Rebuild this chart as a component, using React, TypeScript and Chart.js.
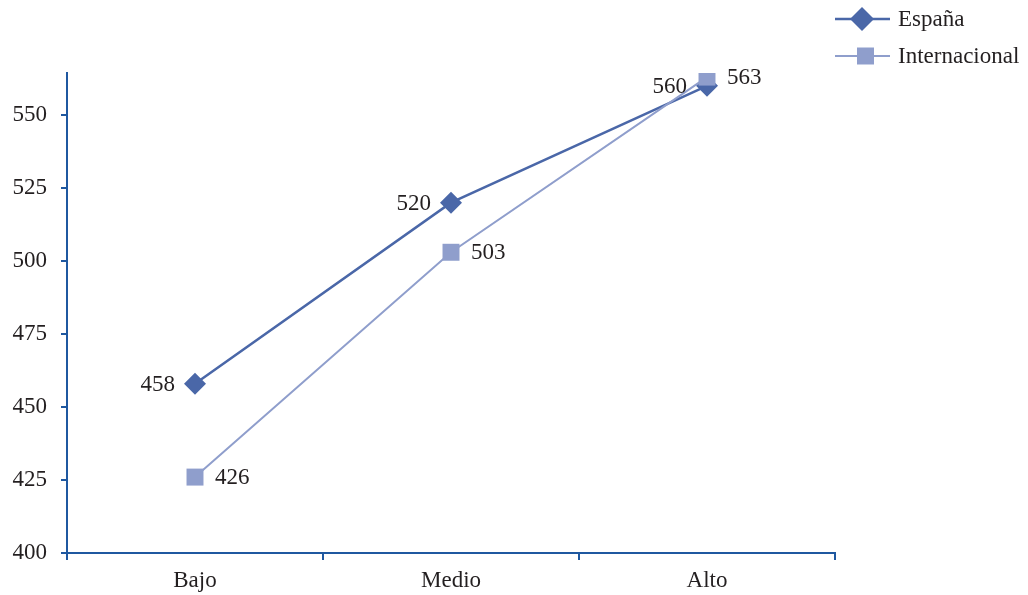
import React, { useEffect, useRef } from "react";
import { Chart, registerables } from "chart.js";

Chart.register(...registerables);

const categories = ["Bajo", "Medio", "Alto"];
const espana = [458, 520, 560];
const internacional = [426, 503, 563];
const seriesNames = ["España", "Internacional"];
const yTicks = [400, 425, 450, 475, 500, 525, 550];

const AXIS = "#1f58a0";
const C1 = "#4a67a8";
const C2 = "#8f9ecc";
const TXT = "#231f20";
const FONT = "'Liberation Serif', 'Times New Roman', serif";
const FS = 23;

const labelsPlugin = {
  id: "valueLabels",
  afterDatasetsDraw(chart: any) {
    const ctx = chart.ctx;
    ctx.save();
    ctx.font = `${FS}px ${FONT}`;
    ctx.fillStyle = TXT;
    ctx.textBaseline = "middle";
    chart.data.datasets.forEach((ds: any, di: number) => {
      const meta = chart.getDatasetMeta(di);
      meta.data.forEach((pt: any, i: number) => {
        const v = ds.data[i];
        if (di === 0) {
          ctx.textAlign = "right";
          ctx.fillText(String(v), pt.x - 20, pt.y + 1);
        } else {
          ctx.textAlign = "left";
          ctx.fillText(String(v), pt.x + 20, pt.y + 1);
        }
      });
    });
    ctx.restore();
  },
};

const legendPlugin = {
  id: "customLegend",
  afterDraw(chart: any) {
    const ctx = chart.ctx;
    ctx.save();
    const items = [
      { name: seriesNames[0], color: C1, y: 19, style: "diamond", lw: 2.5 },
      { name: seriesNames[1], color: C2, y: 56, style: "square", lw: 2 },
    ];
    items.forEach((it) => {
      ctx.strokeStyle = it.color;
      ctx.lineWidth = it.lw;
      ctx.beginPath();
      ctx.moveTo(835, it.y);
      ctx.lineTo(890, it.y);
      ctx.stroke();
      ctx.fillStyle = it.color;
      ctx.beginPath();
      if (it.style === "diamond") {
        const cx = 862, r = 12;
        ctx.moveTo(cx - r, it.y);
        ctx.lineTo(cx, it.y - r);
        ctx.lineTo(cx + r, it.y);
        ctx.lineTo(cx, it.y + r);
        ctx.closePath();
      } else {
        ctx.rect(857, it.y - 8.5, 17, 17);
      }
      ctx.fill();
      ctx.fillStyle = TXT;
      ctx.font = `${FS}px ${FONT}`;
      ctx.textAlign = "left";
      ctx.textBaseline = "middle";
      ctx.fillText(it.name, 898, it.y + 1);
    });
    ctx.restore();
  },
};

export default function App() {
  const ref = useRef<HTMLCanvasElement>(null);
  useEffect(() => {
    document.body.style.margin = "0";
    const chart = new Chart(ref.current!, {
      type: "line",
      data: {
        labels: categories,
        datasets: [
          {
            label: seriesNames[0],
            data: espana,
            borderColor: C1,
            backgroundColor: C1,
            borderWidth: 2.5,
            pointStyle: "rectRot",
            pointRadius: 11,
            pointBorderWidth: 0,
            tension: 0,
            order: 2,
          },
          {
            label: seriesNames[1],
            data: internacional,
            borderColor: C2,
            backgroundColor: C2,
            borderWidth: 2,
            pointStyle: "rect",
            pointRadius: 12,
            pointBorderWidth: 0,
            tension: 0,
            order: 1,
          },
        ],
      },
      options: {
        animation: false,
        responsive: false,
        layout: { padding: { left: 0, right: 193, top: 73, bottom: 0 } },
        plugins: { legend: { display: false }, tooltip: { enabled: false } },
        scales: {
          x: {
            offset: true,
            grid: {
              offset: true,
              drawOnChartArea: false,
              drawTicks: true,
              tickLength: 7,
              color: AXIS,
              lineWidth: 2,
            },
            border: { color: AXIS, width: 2 },
            ticks: { color: TXT, font: { family: FONT, size: FS }, padding: 7 },
            afterFit: (s: any) => {
              s.height = 42;
            },
          },
          y: {
            min: 400,
            max: 564.4,
            afterBuildTicks: (s: any) => {
              s.ticks = yTicks.map((v) => ({ value: v }));
            },
            grid: {
              drawOnChartArea: false,
              drawTicks: true,
              tickLength: 6,
              color: AXIS,
              lineWidth: 2,
            },
            border: { color: AXIS, width: 2 },
            ticks: { color: TXT, font: { family: FONT, size: FS }, padding: 14 },
            afterFit: (s: any) => {
              s.width = 67;
            },
          },
        },
      },
      plugins: [labelsPlugin, legendPlugin],
    });
    return () => chart.destroy();
  }, []);
  return (
    <div style={{ position: "absolute", left: 0, top: 0, width: 1028, height: 595 }}>
      <canvas ref={ref} width={1028} height={595} />
    </div>
  );
}
